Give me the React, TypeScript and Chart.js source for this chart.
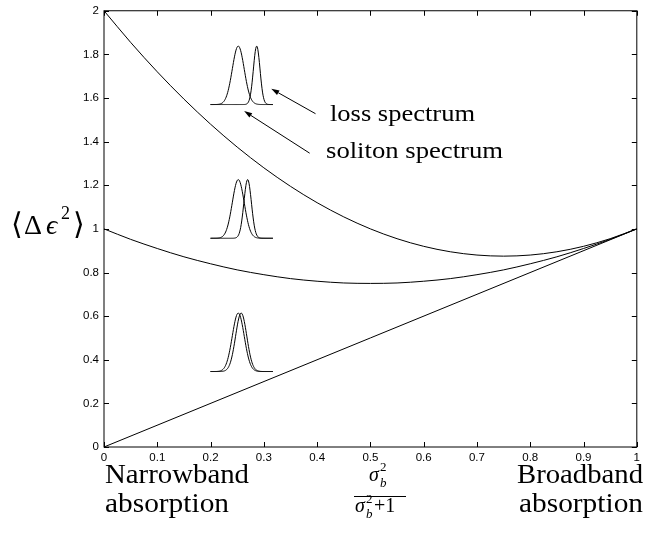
import React, { useEffect, useRef } from 'react';
import { Chart, registerables } from 'chart.js';

Chart.register(...registerables);

// ---- data ----
const curveX = [0, 0.05, 0.1, 0.15, 0.2, 0.25, 0.3, 0.35, 0.4, 0.45, 0.5, 0.55, 0.6, 0.65, 0.7, 0.75, 0.8, 0.85, 0.9, 0.95, 1];
const upperCurve = [2.0, 1.855, 1.72, 1.595, 1.48, 1.375, 1.28, 1.195, 1.12, 1.055, 1.0, 0.955, 0.92, 0.895, 0.88, 0.875, 0.88, 0.895, 0.92, 0.955, 1.0];
const middleCurve = [1.0, 0.952, 0.91, 0.872, 0.84, 0.812, 0.79, 0.772, 0.76, 0.752, 0.75, 0.752, 0.76, 0.772, 0.79, 0.812, 0.84, 0.872, 0.91, 0.952, 1.0];
const lowerX = [0, 1];
const lowerY = [0, 1];

const xTickValues = [0, 0.1, 0.2, 0.3, 0.4, 0.5, 0.6, 0.7, 0.8, 0.9, 1];
const xTickLabels = ['0', '0.1', '0.2', '0.3', '0.4', '0.5', '0.6', '0.7', '0.8', '0.9', '1'];
const yTickValues = [0, 0.2, 0.4, 0.6, 0.8, 1, 1.2, 1.4, 1.6, 1.8, 2];
const yTickLabels = ['0', '0.2', '0.4', '0.6', '0.8', '1', '1.2', '1.4', '1.6', '1.8', '2'];

// inset spectra (illustrations), in data units
const insetLeft = [0.2, 0.2, 0.2];
const insetRight = [0.317, 0.317, 0.317];
const insetBase = [1.57, 0.957, 0.346];
const insetPeak = [1.838, 1.226, 0.614];
const solitonCenter = [0.252, 0.252, 0.252];
const solitonSigma = [0.0112, 0.0112, 0.0112];
const lossCenter = [0.2866, 0.2696, 0.2575];
const lossSigma = [0.0062, 0.0071, 0.0105];

// annotation arrows: tail -> tip (data units)
const arrowTailX = [0.397, 0.386];
const arrowTailY = [1.528, 1.347];
const arrowTipX = [0.314, 0.263];
const arrowTipY = [1.642, 1.54];

const SERIF = '"Liberation Serif", "DejaVu Serif", serif';
const SANS = '"Liberation Sans", Arial, sans-serif';

function fitText(ctx: CanvasRenderingContext2D, text: string, x: number, y: number, font: string, width: number, align: 'left' | 'right' | 'center' = 'left') {
  ctx.save();
  ctx.font = font;
  const w = ctx.measureText(text).width;
  const s = width / w;
  const left = align === 'right' ? x - width : align === 'center' ? x - width / 2 : x;
  ctx.translate(left, y);
  ctx.scale(s, 1);
  ctx.textAlign = 'left';
  ctx.textBaseline = 'alphabetic';
  ctx.fillStyle = '#000';
  ctx.fillText(text, 0, 0);
  ctx.restore();
}

function plainText(ctx: CanvasRenderingContext2D, text: string, x: number, y: number, font: string) {
  ctx.save();
  ctx.font = font;
  ctx.textAlign = 'left';
  ctx.textBaseline = 'alphabetic';
  ctx.fillStyle = '#000';
  ctx.fillText(text, x, y);
  ctx.restore();
}

const decorPlugin = {
  id: 'decor',
  afterDraw(chart: any) {
    const ctx: CanvasRenderingContext2D = chart.ctx;
    const xs = chart.scales.x;
    const ys = chart.scales.y;
    const a = chart.chartArea;
    ctx.save();
    ctx.strokeStyle = '#000';
    ctx.lineWidth = 1;
    // box
    ctx.strokeRect(a.left, a.top, a.right - a.left, a.bottom - a.top);
    // inward ticks
    const tl = 5;
    ctx.beginPath();
    xTickValues.forEach((v) => {
      const px = Math.round(xs.getPixelForValue(v)) + 0.5;
      ctx.moveTo(px, a.bottom);
      ctx.lineTo(px, a.bottom - tl);
      ctx.moveTo(px, a.top);
      ctx.lineTo(px, a.top + tl);
    });
    yTickValues.forEach((v) => {
      const py = Math.round(ys.getPixelForValue(v)) + 0.5;
      ctx.moveTo(a.left, py);
      ctx.lineTo(a.left + tl, py);
      ctx.moveTo(a.right, py);
      ctx.lineTo(a.right - tl, py);
    });
    ctx.stroke();

    // inset spectra
    ctx.lineWidth = 1;
    for (let i = 0; i < insetBase.length; i++) {
      const specs = [
        [solitonCenter[i], solitonSigma[i]],
        [lossCenter[i], lossSigma[i]],
      ];
      specs.forEach(([c, s]) => {
        ctx.beginPath();
        const N = 120;
        for (let k = 0; k <= N; k++) {
          const x = insetLeft[i] + ((insetRight[i] - insetLeft[i]) * k) / N;
          const y = insetBase[i] + (insetPeak[i] - insetBase[i]) * Math.exp(-((x - c) * (x - c)) / (2 * s * s));
          const px = xs.getPixelForValue(x);
          const py = ys.getPixelForValue(y);
          if (k === 0) ctx.moveTo(px, py);
          else ctx.lineTo(px, py);
        }
        ctx.stroke();
      });
    }

    // arrows
    for (let i = 0; i < arrowTailX.length; i++) {
      const x0 = xs.getPixelForValue(arrowTailX[i]);
      const y0 = ys.getPixelForValue(arrowTailY[i]);
      const x1 = xs.getPixelForValue(arrowTipX[i]);
      const y1 = ys.getPixelForValue(arrowTipY[i]);
      const ang = Math.atan2(y1 - y0, x1 - x0);
      const hl = 8;
      const hw = 2.6;
      const bx = x1 - hl * Math.cos(ang);
      const by = y1 - hl * Math.sin(ang);
      ctx.beginPath();
      ctx.moveTo(x0, y0);
      ctx.lineTo(bx, by);
      ctx.stroke();
      ctx.beginPath();
      ctx.moveTo(x1, y1);
      ctx.lineTo(bx + hw * Math.sin(ang), by - hw * Math.cos(ang));
      ctx.lineTo(bx - hw * Math.sin(ang), by + hw * Math.cos(ang));
      ctx.closePath();
      ctx.fillStyle = '#000';
      ctx.fill();
    }
    ctx.restore();

    // annotation labels
    fitText(ctx, 'loss spectrum', 330, 121, `24px ${SERIF}`, 145);
    fitText(ctx, 'soliton spectrum', 326, 158, `24px ${SERIF}`, 177);

    // bottom labels
    fitText(ctx, 'Narrowband', 105, 483, `27px ${SERIF}`, 144);
    fitText(ctx, 'absorption', 105, 512, `27px ${SERIF}`, 124);
    fitText(ctx, 'Broadband', 643, 483, `27px ${SERIF}`, 126, 'right');
    fitText(ctx, 'absorption', 643, 512, `27px ${SERIF}`, 124, 'right');

    // fraction sigma_b^2 / (sigma_b^2 + 1)
    const it = `italic 20px ${SERIF}`;
    const itS = `italic 13px ${SERIF}`;
    const upS = `13px ${SERIF}`;
    plainText(ctx, 'σ', 369, 481, it);
    plainText(ctx, '2', 380, 471, upS);
    plainText(ctx, 'b', 380, 487, itS);
    ctx.save();
    ctx.strokeStyle = '#000';
    ctx.lineWidth = 1.2;
    ctx.beginPath();
    ctx.moveTo(354, 496.5);
    ctx.lineTo(406, 496.5);
    ctx.stroke();
    ctx.restore();
    plainText(ctx, 'σ', 355, 512, it);
    plainText(ctx, '2', 366, 503, upS);
    plainText(ctx, 'b', 366, 518, itS);
    plainText(ctx, '+1', 374, 512, `20px ${SERIF}`);

    // y-axis label <Δϵ²>
    plainText(ctx, '⟨', 11, 234, `30px ${SERIF}`);
    plainText(ctx, 'Δ', 24, 234, `28px ${SERIF}`);
    plainText(ctx, 'ϵ', 46, 234, `italic 28px ${SERIF}`);
    plainText(ctx, '2', 61, 219, `18px ${SERIF}`);
    plainText(ctx, '⟩', 73, 234, `30px ${SERIF}`);
  },
};

export default function App() {
  const ref = useRef<HTMLCanvasElement | null>(null);
  useEffect(() => {
    if (!ref.current) return;
    const chart = new Chart(ref.current, {
      type: 'line',
      data: {
        datasets: [
          {
            data: curveX.map((x, i) => ({ x, y: upperCurve[i] })),
            borderColor: '#000',
            borderWidth: 1,
            pointRadius: 0,
            cubicInterpolationMode: 'monotone',
          },
          {
            data: curveX.map((x, i) => ({ x, y: middleCurve[i] })),
            borderColor: '#000',
            borderWidth: 1,
            pointRadius: 0,
            cubicInterpolationMode: 'monotone',
          },
          {
            data: lowerX.map((x, i) => ({ x, y: lowerY[i] })),
            borderColor: '#000',
            borderWidth: 1,
            pointRadius: 0,
          },
        ],
      },
      options: {
        responsive: false,
        animation: false,
        layout: { padding: { left: 0, right: 5, top: 6, bottom: 0 } },
        plugins: { legend: { display: false }, tooltip: { enabled: false } },
        scales: {
          x: {
            type: 'linear',
            min: 0,
            max: 1,
            grid: { display: false, drawTicks: false },
            border: { display: false },
            ticks: {
              stepSize: 0.1,
              color: '#000',
              padding: 5,
              maxRotation: 0,
              autoSkip: false,
              font: { family: SANS, size: 11.5, lineHeight: 1 },
              callback: (_v: any, i: number) => xTickLabels[i],
            },
            afterFit: (s: any) => {
              s.height = 86;
            },
          },
          y: {
            type: 'linear',
            min: 0,
            max: 2,
            grid: { display: false, drawTicks: false },
            border: { display: false },
            ticks: {
              stepSize: 0.2,
              color: '#000',
              padding: 5,
              autoSkip: false,
              font: { family: SANS, size: 11.5, lineHeight: 1 },
              callback: (_v: any, i: number) => yTickLabels[i],
            },
            afterFit: (s: any) => {
              s.width = 104;
            },
          },
        },
      } as any,
      plugins: [decorPlugin],
    });
    return () => chart.destroy();
  }, []);
  return (
    <div style={{ position: 'absolute', left: 0, top: 0, width: 645, height: 533, background: '#fff' }}>
      <canvas ref={ref} width={645} height={533} />
    </div>
  );
}
